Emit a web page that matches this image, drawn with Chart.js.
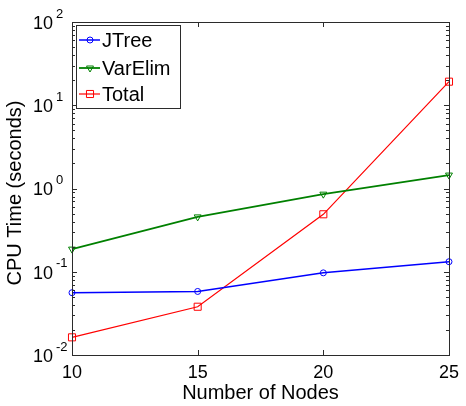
<!DOCTYPE html>
<html><head><meta charset="utf-8">
<script src="https://cdn.jsdelivr.net/npm/chart.js@4"></script>
<style>html,body{margin:0;padding:0;background:#fff}</style>
</head><body>
<canvas id="c" width="466" height="406" style="display:block;width:466px;height:406px"></canvas>
<script>
const nodes = [10, 15, 20, 25];
const jtree = [0.056, 0.058, 0.097, 0.132];
const varElim = [0.187, 0.456, 0.855, 1.45];
const total = [0.0163, 0.038, 0.49, 19.2];
const xTickValues = [10, 15, 20, 25];
const yTickExponents = [-2, -1, 0, 1, 2];
const seriesNames = ['JTree', 'VarElim', 'Total'];
const xTitle = 'Number of Nodes';
const yTitle = 'CPU Time (seconds)';

const FONT = "'Liberation Sans', Arial, Helvetica, sans-serif";
const AXIS_COLOR = '#2b2b2b';

function pts(vals) { return nodes.map((x, i) => ({x: x, y: vals[i]})); }

const boxTicksPlugin = {
  id: 'boxTicks',
  afterDatasetsDraw(chart) {
    const ctx = chart.ctx, a = chart.chartArea;
    const xs = chart.scales.x, ys = chart.scales.y;
    ctx.save();
    ctx.strokeStyle = AXIS_COLOR;
    ctx.lineWidth = 1;
    ctx.strokeRect(Math.round(a.left) + 0.5, Math.round(a.top) + 0.5,
      Math.round(a.right - a.left), Math.round(a.bottom - a.top));
    ctx.beginPath();
    xTickValues.forEach(v => {
      const px = Math.round(xs.getPixelForValue(v)) + 0.5;
      ctx.moveTo(px, a.bottom); ctx.lineTo(px, a.bottom - 5);
      ctx.moveTo(px, a.top); ctx.lineTo(px, a.top + 5);
    });
    for (let e = -2; e <= 2; e++) {
      for (let m = 1; m <= 9; m++) {
        const v = m * Math.pow(10, e);
        if (v > 100) break;
        const py = Math.round(ys.getPixelForValue(v)) + 0.5;
        const len = m === 1 ? 5 : 3;
        ctx.moveTo(a.left, py); ctx.lineTo(a.left + len, py);
        ctx.moveTo(a.right, py); ctx.lineTo(a.right - len, py);
      }
    }
    ctx.stroke();
    // y tick labels 10^n
    ctx.fillStyle = '#000';
    yTickExponents.forEach(e => {
      const py = ys.getPixelForValue(Math.pow(10, e));
      ctx.font = '18px ' + FONT;
      ctx.textAlign = 'right';
      ctx.textBaseline = 'middle';
      ctx.fillText('10', 53, py + 2);
      ctx.font = '13px ' + FONT;
      ctx.textAlign = 'left';
      ctx.fillText(String(e), 56, py - 8);
    });
    // y axis title
    ctx.save();
    ctx.translate(14, 193);
    ctx.rotate(-Math.PI / 2);
    ctx.font = '20px ' + FONT;
    ctx.textAlign = 'center';
    ctx.textBaseline = 'middle';
    ctx.fillText(yTitle, 0, 1);
    ctx.restore();
    ctx.restore();
  }
};

const legendPlugin = {
  id: 'boxLegend',
  afterDraw(chart) {
    const ctx = chart.ctx;
    const x0 = 76, y0 = 25, w = 104, h = 83;
    ctx.save();
    ctx.fillStyle = '#fff';
    ctx.fillRect(x0, y0, w, h);
    ctx.strokeStyle = AXIS_COLOR;
    ctx.lineWidth = 1;
    ctx.strokeRect(x0 + 0.5, y0 + 0.5, w, h);
    const rows = [40, 68, 94];
    chart.data.datasets.forEach((ds, i) => {
      const y = rows[i];
      ctx.strokeStyle = ds.borderColor;
      ctx.lineWidth = ds.borderWidth;
      ctx.beginPath(); ctx.moveTo(79, y); ctx.lineTo(100, y); ctx.stroke();
      ctx.lineWidth = ds.pointBorderWidth;
      ctx.fillStyle = 'rgba(0,0,0,0)';
      Chart.helpers.drawPoint(ctx, {
        pointStyle: ds.pointStyle, rotation: ds.pointRotation || 0,
        radius: ds.pointRadius, borderWidth: ds.pointBorderWidth
      }, 90, y);
      ctx.fillStyle = '#000';
      ctx.font = '20px ' + FONT;
      ctx.textAlign = 'left';
      ctx.textBaseline = 'middle';
      ctx.fillText(ds.label, 102, y + 1);
    });
    ctx.restore();
  }
};

new Chart(document.getElementById('c'), {
  type: 'line',
  data: {
    datasets: [
      {label: seriesNames[0], data: pts(jtree), borderColor: '#0000ff', borderWidth: 1.5,
       pointStyle: 'circle', pointRadius: 3, pointBorderWidth: 1, pointBorderColor: '#0000ff',
       pointBackgroundColor: 'rgba(0,0,0,0)', fill: false, tension: 0, clip: false},
      {label: seriesNames[1], data: pts(varElim), borderColor: '#008000', borderWidth: 1.8,
       pointStyle: 'triangle', pointRotation: 180, pointRadius: 4, pointBorderWidth: 1, pointBorderColor: '#008000',
       pointBackgroundColor: 'rgba(0,0,0,0)', fill: false, tension: 0, clip: false},
      {label: seriesNames[2], data: pts(total), borderColor: '#ff0000', borderWidth: 1.2,
       pointStyle: 'rect', pointRadius: 5, pointBorderWidth: 1, pointBorderColor: '#ff0000',
       pointBackgroundColor: 'rgba(0,0,0,0)', fill: false, tension: 0, clip: false}
    ]
  },
  options: {
    responsive: false,
    animation: false,
    devicePixelRatio: 1,
    layout: {padding: {top: 22, right: 11, left: 0, bottom: 0}},
    plugins: {legend: {display: false}, tooltip: {enabled: false}},
    scales: {
      x: {
        type: 'linear', min: 10, max: 25,
        grid: {display: false, drawTicks: false},
        border: {display: false},
        ticks: {stepSize: 5, color: '#000', font: {family: FONT, size: 18}, padding: 7, maxRotation: 0,
                callback: v => xTickValues.includes(v) ? String(v) : ''},
        title: {display: true, text: xTitle, color: '#000', font: {family: FONT, size: 20},
                padding: {top: 0, bottom: 1}},
        afterFit(s) { s.height = 51; }
      },
      y: {
        type: 'logarithmic', min: 0.01, max: 100,
        grid: {display: false, drawTicks: false},
        border: {display: false},
        ticks: {callback: () => ''},
        title: {display: false},
        afterFit(s) { s.width = 72; }
      }
    }
  },
  plugins: [boxTicksPlugin, legendPlugin]
});
</script>
</body></html>
